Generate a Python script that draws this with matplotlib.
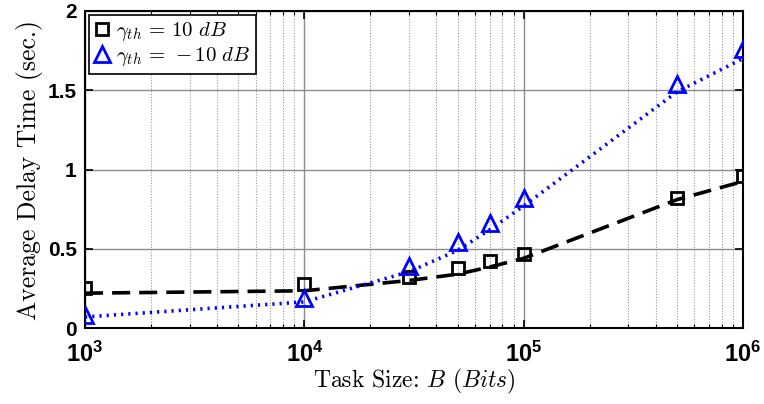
import numpy as np
import matplotlib
matplotlib.use("Agg")
import matplotlib.pyplot as plt
from matplotlib.ticker import LogLocator, NullFormatter, FixedLocator, FuncFormatter

plt.rcParams['mathtext.fontset'] = 'cm'
plt.rcParams['axes.unicode_minus'] = False
plt.rcParams['axes.formatter.use_mathtext'] = True

# Task sizes (bits)
task_size = [1e3, 1e4, 3e4, 5e4, 7e4, 1e5, 5e5, 1e6]

# Simulated average delay (markers)
delay_10db = [0.25, 0.28, 0.32, 0.38, 0.42, 0.47, 0.82, 0.96]
delay_m10db = [0.08, 0.19, 0.39, 0.54, 0.66, 0.82, 1.54, 1.76]

# Analytical average delay (lines)
fit_10db = [0.22, 0.235, 0.30, 0.34, 0.385, 0.44, 0.81, 0.925]
fit_m10db = [0.07, 0.165, 0.355, 0.49, 0.62, 0.77, 1.49, 1.70]

y_ticks = [0, 0.5, 1, 1.5, 2]
labels = [r'$\gamma_{th}\, =\, 10\ dB$', r'$\gamma_{th}\, =\, -10\ dB$']

fig = plt.figure(figsize=(7.64, 4.04), dpi=100)
ax = fig.add_axes([0.1113, 0.188, 0.8612, 0.7848])

ax.plot(task_size, fit_10db, color='black', linestyle=(0, (5, 2.5)), lw=2.6, zorder=3)
ax.plot(task_size, fit_m10db, color='blue', linestyle=(0, (0.6, 1.4)), lw=2.6,
        dash_capstyle='butt', zorder=3)

ax.plot(task_size, delay_10db, linestyle='none', marker='s', ms=8.5, mfc='none',
        mec='black', mew=2.0, label=labels[0], zorder=4)
ax.plot(task_size, delay_m10db, linestyle='none', marker='^', ms=11.5, mfc='none',
        mec='blue', mew=2.0, label=labels[1], zorder=4)

ax.set_xscale('log')
ax.set_xlim(1e3, 1e6)
ax.set_ylim(0, 2)
ax.yaxis.set_major_locator(FixedLocator(y_ticks))
ax.yaxis.set_major_formatter(FuncFormatter(lambda v, p: '%g' % v))
ax.xaxis.set_major_locator(LogLocator(base=10, numticks=10))
ax.xaxis.set_minor_locator(LogLocator(base=10, subs=np.arange(2, 10), numticks=50))
ax.xaxis.set_minor_formatter(NullFormatter())

ax.grid(True, which='major', axis='both', color='#8c8c8c', lw=1.0, ls='-')
ax.grid(True, which='minor', axis='x', color='#9a9a9a', lw=0.8, ls=(0, (1, 1.5)))
ax.set_axisbelow(True)

ax.tick_params(which='both', direction='in', top=True, right=True)
ax.tick_params(which='major', length=6, width=1.2)
ax.tick_params(which='minor', length=3, width=0.8)
ax.tick_params(axis='x', which='major', labelsize=17, pad=10)
ax.tick_params(axis='y', which='major', labelsize=15, pad=6)
for lbl in ax.get_xticklabels() + ax.get_yticklabels():
    lbl.set_fontweight('bold')
    lbl.set_family('Liberation Sans')

for sp in ax.spines.values():
    sp.set_linewidth(1.5)
    sp.set_color('black')

ax.set_xlabel('Task Size: $B$ $(Bits)$', family='cmr10', fontsize=17, labelpad=0)
ax.set_ylabel('Average Delay Time (sec.)', family='cmr10', fontsize=18.5, labelpad=3)

leg = ax.legend(loc='upper left', fontsize=15, frameon=True, fancybox=False,
                edgecolor='black', borderaxespad=0.2, handlelength=0.7,
                handletextpad=0.35, borderpad=0.25, labelspacing=0.1)
leg.get_frame().set_linewidth(1.2)
leg.get_frame().set_alpha(1)

fig.savefig('out.png', dpi=100)
